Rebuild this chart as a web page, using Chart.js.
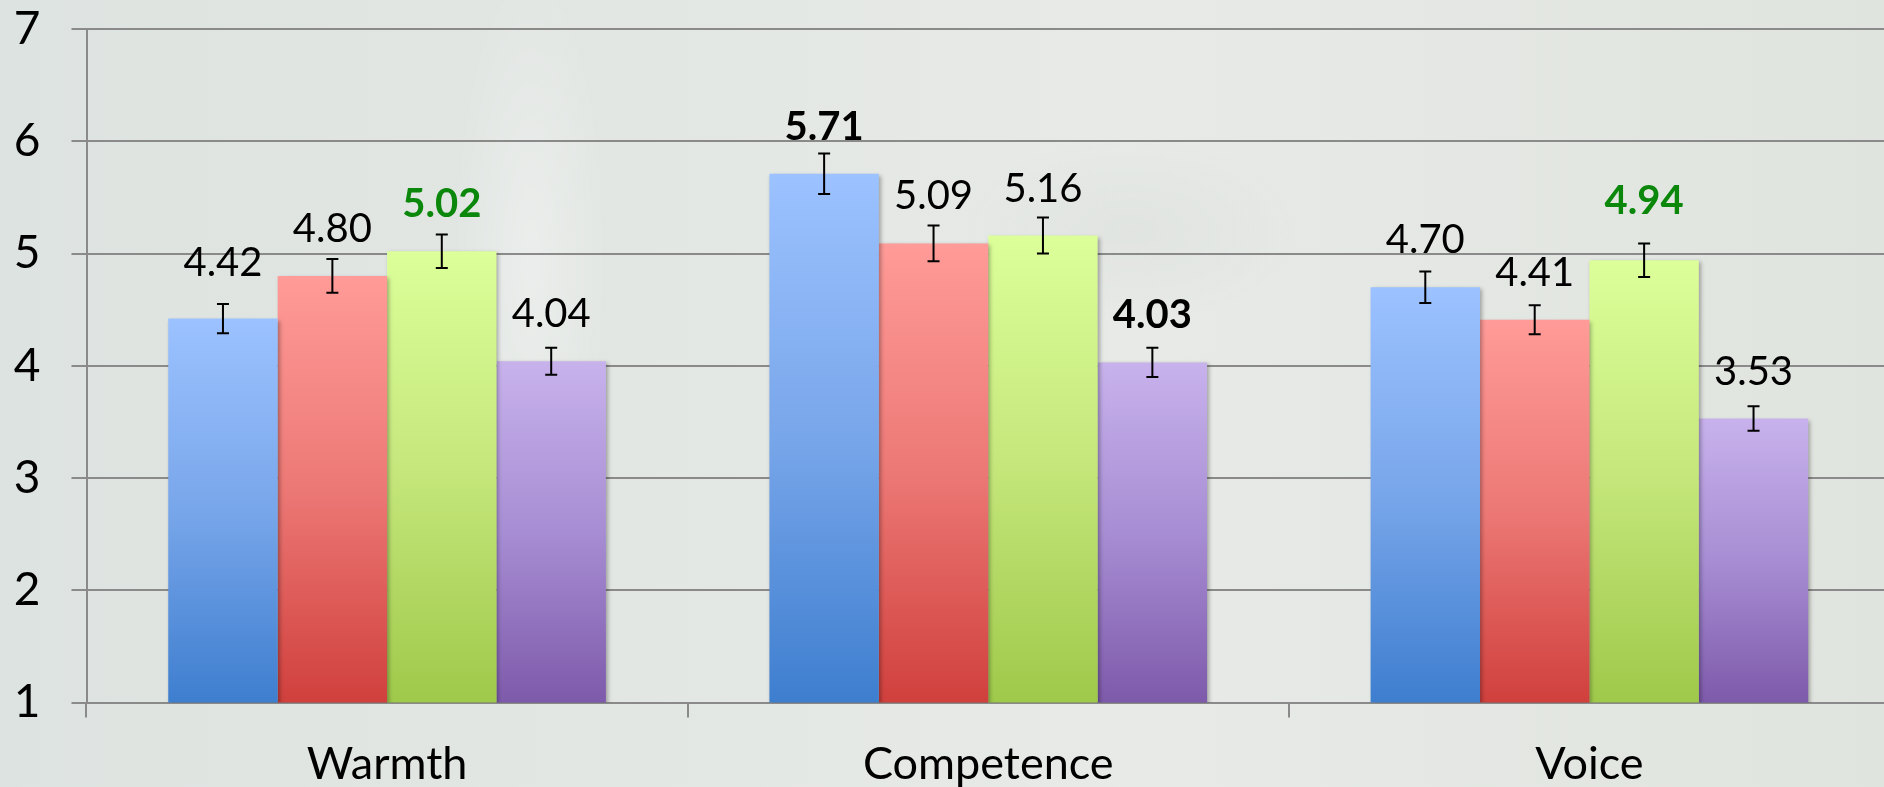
<!DOCTYPE html>
<html><head><meta charset="utf-8">
<script src="https://cdn.jsdelivr.net/npm/chart.js@4/dist/chart.umd.min.js"></script>
<style>
html,body{margin:0;padding:0;width:1884px;height:787px;overflow:hidden;}
body{background:
 radial-gradient(ellipse 110px 420px at 530px 260px, rgba(255,255,255,0.30), rgba(255,255,255,0) 70%),
 radial-gradient(ellipse 240px 130px at 1130px 230px, rgba(205,210,205,0.25), rgba(205,210,205,0) 70%),
 linear-gradient(90deg,#dde3e0 0%,#e3e7e4 35%,#e7eae7 60%,#e0e4de 100%);}
canvas{position:absolute;left:0;top:0;}
</style></head>
<body><canvas id="c" width="1890" height="787"></canvas>
<script>
const categories = ['Warmth', 'Competence', 'Voice'];
const seriesNames = ['Series 1', 'Series 2', 'Series 3', 'Series 4'];
const blueValues = [4.42, 5.71, 4.70];
const redValues = [4.80, 5.09, 4.41];
const greenValues = [5.02, 5.16, 4.94];
const purpleValues = [4.04, 4.03, 3.53];
const blueErrors = [0.13, 0.18, 0.14];
const redErrors = [0.15, 0.16, 0.13];
const greenErrors = [0.15, 0.16, 0.15];
const purpleErrors = [0.12, 0.13, 0.11];
const yTicks = [1, 2, 3, 4, 5, 6, 7];

// label emphasis: "datasetIndex-categoryIndex"
const emphasis = { '0-1': 'bold', '3-1': 'bold', '2-0': 'green', '2-2': 'green' };
// extra lift of a few hand-placed labels (px)
const labelLift = { '0-0': 9, '2-2': 12 };

function barGradient(top, mid, bottom) {
  return (ctx) => {
    const chart = ctx.chart;
    if (!chart.chartArea || ctx.type !== 'data') return bottom;
    const y = chart.scales.y;
    const yTop = y.getPixelForValue(ctx.raw);
    const yBot = y.getPixelForValue(y.min);
    const g = chart.ctx.createLinearGradient(0, yTop, 0, yBot);
    g.addColorStop(0, top);
    g.addColorStop(0.5, mid);
    g.addColorStop(1, bottom);
    return g;
  };
}

const errorSets = [blueErrors, redErrors, greenErrors, purpleErrors];

const decorPlugin = {
  id: 'decor',
  beforeDatasetsDraw(chart) {
    const c = chart.ctx;
    c.save();
    c.shadowColor = 'rgba(0,0,0,0.30)';
    c.shadowBlur = 4;
    c.shadowOffsetX = 2;
    c.shadowOffsetY = 2;
  },
  afterDatasetsDraw(chart) {
    const c = chart.ctx;
    c.restore();
    const y = chart.scales.y;
    c.save();
    chart.data.datasets.forEach((ds, di) => {
      const meta = chart.getDatasetMeta(di);
      meta.data.forEach((bar, i) => {
        const v = ds.data[i];
        const e = errorSets[di][i];
        const x = bar.x;
        const yHi = y.getPixelForValue(v + e);
        const yLo = y.getPixelForValue(v - e);
        c.strokeStyle = '#000';
        c.lineWidth = 2;
        c.beginPath();
        c.moveTo(x, yHi); c.lineTo(x, yLo);
        c.moveTo(x - 6, yHi); c.lineTo(x + 6, yHi);
        c.moveTo(x - 6, yLo); c.lineTo(x + 6, yLo);
        c.stroke();
        const key = di + '-' + i;
        const em = emphasis[key];
        c.font = (em ? 'bold ' : '') + '40px Lato';
        c.fillStyle = em === 'green' ? '#0b880b' : '#000';
        c.textAlign = 'center';
        c.textBaseline = 'alphabetic';
        c.fillText(v.toFixed(2), x, y.getPixelForValue(v) - 34 - (labelLift[key] || 0));
      });
    });
    c.restore();
  }
};

function makeChart() {
  new Chart(document.getElementById('c'), {
    type: 'bar',
    data: {
      labels: categories,
      datasets: [
        { label: seriesNames[0], data: blueValues, backgroundColor: barGradient('#9cc2ff', '#78a6ea', '#3e7ecf') },
        { label: seriesNames[1], data: redValues, backgroundColor: barGradient('#ff9b98', '#ec7875', '#d0403d') },
        { label: seriesNames[2], data: greenValues, backgroundColor: barGradient('#dcff9a', '#c4e67a', '#9fc94a') },
        { label: seriesNames[3], data: purpleValues, backgroundColor: barGradient('#c8b2ec', '#a78dd3', '#7e5aab') }
      ].map(d => Object.assign(d, { categoryPercentage: 0.728, barPercentage: 1.0, borderWidth: 0 }))
    },
    options: {
      responsive: false,
      animation: false,
      devicePixelRatio: 1,
      layout: { padding: { top: 29, left: 0, right: 0, bottom: 0 } },
      plugins: { legend: { display: false }, tooltip: { enabled: false } },
      scales: {
        x: {
          grid: { display: true, drawOnChartArea: false, drawTicks: true, tickLength: 15, color: '#8a8a8a', lineWidth: 2, offset: true },
          border: { display: false },
          ticks: { font: { family: 'Lato', size: 45 }, color: '#000', padding: 20 },
          afterFit(s) { s.height = 84.5; s.paddingLeft = 0; s.paddingRight = 0; }
        },
        y: {
          min: 1, max: 7,
          afterBuildTicks(s) { s.ticks = yTicks.map(v => ({ value: v })); },
          grid: { color: '#8a8a8a', lineWidth: 2, tickLength: 15 },
          border: { display: true, color: '#8a8a8a', width: 2 },
          ticks: { font: { family: 'Lato', size: 46 }, color: '#000', padding: 31 },
          afterFit(s) { s.width = 86.5; s.paddingTop = 0; s.paddingBottom = 0; }
        }
      }
    },
    plugins: [decorPlugin]
  });
}

Promise.all([
  document.fonts.load('40px Lato'),
  document.fonts.load('bold 40px Lato')
]).then(makeChart, makeChart);
</script>
</body></html>
